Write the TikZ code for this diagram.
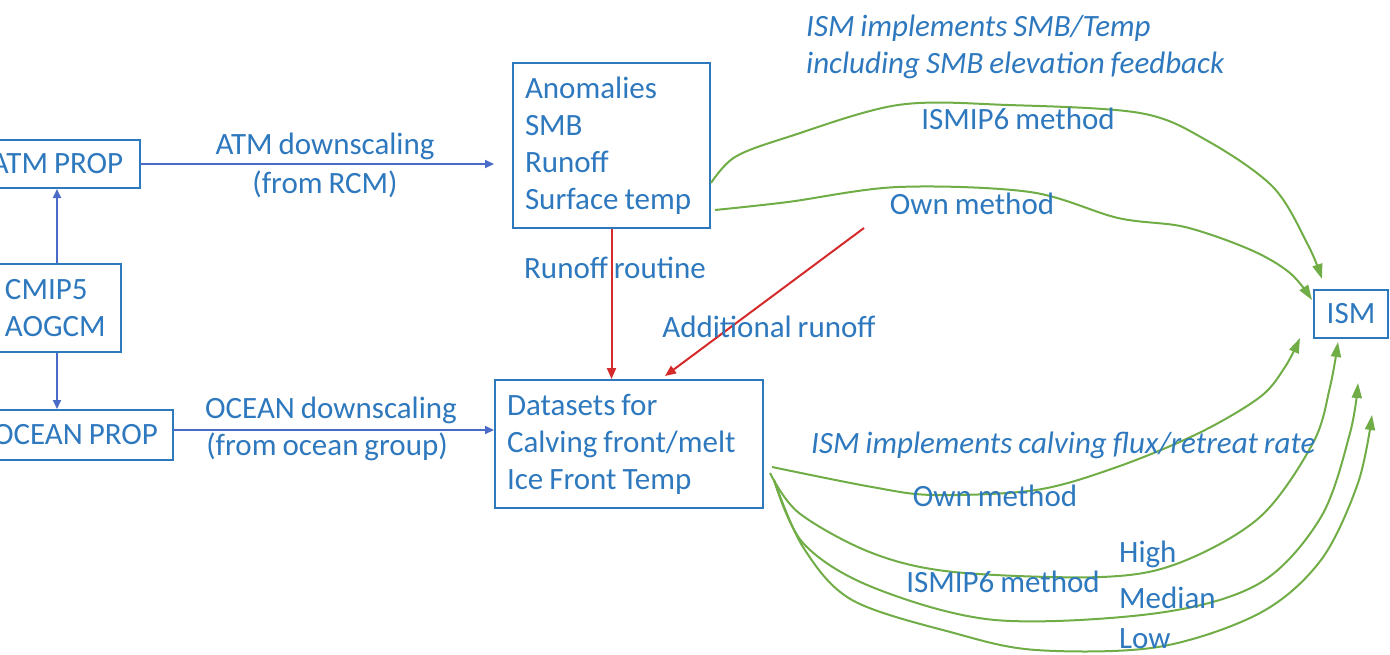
\documentclass[tikz,border=0pt]{standalone}
\usepackage{fontspec}
\setmainfont[WordSpace=0.85]{Carlito}
\usetikzlibrary{arrows.meta,calc}
\definecolor{txtblue}{HTML}{2E78BE}
\definecolor{arrblue}{HTML}{4A6CC8}
\definecolor{flowgreen}{HTML}{70AD47}
\definecolor{flowred}{HTML}{D42A2A}
\tikzset{
  box/.style={draw=txtblue, line width=2pt, text=txtblue, inner xsep=12pt, inner ysep=4pt,
              font=\fontsize{31}{37}\selectfont},
  lbl/.style={text=txtblue, inner sep=0pt, font=\fontsize{31}{37}\selectfont},
  ilbl/.style={lbl, font=\fontsize{31}{37}\selectfont\itshape},
  bluearrow/.style={draw=arrblue, line width=2pt, -{Triangle[length=9pt,width=8pt]}},
  redarrow/.style={draw=flowred, line width=2pt, -{Triangle[length=11pt,width=9pt]}},
  greenarrow/.style={draw=flowgreen, line width=2pt, -{Triangle[length=15pt,width=10pt]}},
}
\begin{document}
\begin{tikzpicture}[x=1pt,y=-1pt]
\useasboundingbox (0,0) rectangle (1390,654);
\clip (0,0) rectangle (1390,654);

% boxes
\node[box, minimum width=166pt, minimum height=48pt] (atm) at (57,164) {ATM PROP};
\node[box, text width=104pt, align=flush left, minimum height=88pt] (cmip) at (57,308) {CMIP5\\AOGCM};
\node[box, minimum width=195pt, minimum height=50pt] (ocean) at (75.5,435) {OCEAN PROP};
\node[box, text width=173pt, align=flush left, minimum height=165pt] (anom) at (611.5,145.5)
  {Anomalies\\SMB\\Runoff\\Surface temp};
\node[box, text width=244pt, align=flush left, minimum height=128pt] (data) at (629,444)
  {Datasets for\\Calving front/melt\\Ice Front Temp};
\node[box, inner xsep=4pt, minimum width=74pt, minimum height=48pt] (ism) at (1351,314) {ISM};

% downscaling links
\draw[bluearrow] (cmip.north) -- (cmip.north |- atm.south);
\draw[bluearrow] (cmip.south) -- (cmip.south |- ocean.north);
\draw[bluearrow, shorten >=18pt] (atm.east) -- (atm.east -| anom.west);
\draw[bluearrow] (ocean.east |- 0,430) -- (data.west |- 0,430);

% runoff links
\coordinate (addrun) at (864,228);
\draw[redarrow] (anom.south) -- (anom.south |- data.north);
\draw[redarrow] (addrun) -- (665,376);

% SMB / temperature forcing to the ice sheet model
\coordinate (u1s) at (711,183);
\coordinate (u2s) at (715,210);
\draw[greenarrow] plot[smooth, tension=0.55] coordinates {(u1s) (735,157) (788,137) (898,105) (1008,105) (1140,113) (1206,140) (1273,187) (1308,245) (1322,279)};
\draw[greenarrow] plot[smooth, tension=0.55] coordinates {(u2s) (788,202) (898,187) (1030,192) (1118,218) (1185,227) (1251,250) (1290,273) (1312,300)};

% calving forcing to the ice sheet model
\coordinate (l1s) at (772,467);
\coordinate (l2s) at (770,473);
\coordinate (l3s) at (774,480);
\draw[greenarrow] plot[smooth, tension=0.55] coordinates {(l1s) (872,487) (934,495) (1036,490) (1117,467) (1199,433) (1260,397) (1285,367) (1300,338)};
\draw[greenarrow] plot[smooth, tension=0.55] coordinates {(l2s) (799,513) (872,553) (954,572) (1101,577) (1179,563) (1260,517) (1313,443) (1330,387) (1338,342)};
\draw[greenarrow] plot[smooth, tension=0.55] coordinates {(l3s) (803,543) (872,587) (995,620) (1158,613) (1260,583) (1321,517) (1350,433) (1358,383)};
\draw[greenarrow] plot[smooth, tension=0.55] coordinates {(l3s) (803,547) (852,600) (954,633) (1036,650) (1158,647) (1260,613) (1321,560) (1358,483) (1372,415)};

% labels
\node[lbl] (l-atm1) at (325,146) {ATM downscaling};
\node[lbl] (l-atm2) at (325,184) {(from RCM)};
\node[lbl] (l-oc1) at (331,410) {OCEAN downscaling};
\node[lbl] (l-oc2) at (327,447) {(from ocean group)};
\node[lbl] (l-rr) at (615,268) {Runoff routine};
\node[lbl] (l-ar) at (769,327) {Additional runoff};
\node[ilbl, anchor=west] (l-t1) at (806,28) {ISM implements SMB/Temp};
\node[ilbl, anchor=west] (l-t2) at (806,65) {including SMB elevation feedback};
\node[lbl] (l-u1) at (1018,119) {ISMIP6 method};
\node[lbl] (l-u2) at (972,204) {Own method};
\node[ilbl, anchor=west] (l-cal) at (811,445) {ISM implements calving flux/retreat rate};
\node[lbl] (l-own) at (995,496) {Own method};
\node[lbl] (l-ism6) at (1003,582) {ISMIP6 method};
\node[lbl, anchor=west] (l-hi) at (1119,554) {High};
\node[lbl, anchor=west] (l-med) at (1119,598) {Median};
\node[lbl, anchor=west] (l-low) at (1119,639) {Low};
\end{tikzpicture}
\end{document}
